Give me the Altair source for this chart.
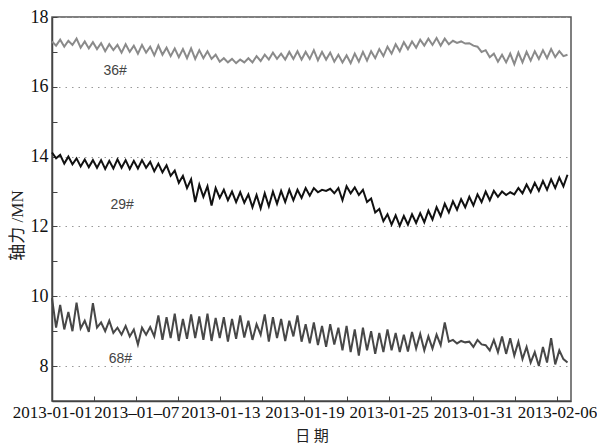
import json
import altair as alt
import pandas as pd

# ---------------- data ----------------
start_time = "2013-01-01 00:00"
step = "7h"

s36 = [17.30, 17.18, 17.35, 17.15, 17.32, 17.20, 17.38, 17.12, 17.30, 17.10, 17.28, 17.08,
       17.25, 17.02, 17.22, 17.05, 17.20, 16.98, 17.22, 17.00, 17.18, 16.95, 17.20, 16.98,
       17.15, 16.90, 17.18, 16.92, 17.12, 16.88, 17.10, 16.85, 17.08, 16.82, 17.10, 16.80,
       17.05, 16.82, 17.02, 16.80, 16.92, 16.72, 16.82, 16.70, 16.80, 16.68, 16.78, 16.70,
       16.82, 16.70, 16.88, 16.74, 16.92, 16.78, 16.98, 16.80, 16.95, 16.78, 17.00, 16.80,
       17.02, 16.78, 17.00, 16.80, 17.05, 16.76, 17.00, 16.78, 16.98, 16.72, 16.92, 16.70,
       16.90, 16.68, 16.95, 16.72, 17.00, 16.75, 17.02, 16.82, 17.08, 16.88, 17.15, 16.95,
       17.22, 17.02, 17.28, 17.08, 17.30, 17.12, 17.35, 17.18, 17.38, 17.20, 17.40, 17.18,
       17.38, 17.22, 17.32, 17.26, 17.30, 17.24, 17.25, 17.18, 17.15, 17.00, 17.05, 16.85,
       16.95, 16.72, 16.92, 16.70, 16.95, 16.65, 16.98, 16.70, 17.00, 16.75, 17.02, 16.80,
       17.05, 16.82, 17.08, 16.85, 17.02, 16.88, 16.92]

s29 = [14.12, 13.95, 14.05, 13.80, 14.00, 13.78, 13.95, 13.72, 13.92, 13.70, 13.90, 13.68,
       13.90, 13.65, 13.88, 13.66, 13.92, 13.68, 13.90, 13.65, 13.88, 13.66, 13.90, 13.68,
       13.85, 13.58, 13.80, 13.55, 13.75, 13.45, 13.60, 13.25, 13.45, 13.10, 13.35, 12.70,
       13.20, 12.85, 13.15, 12.60, 13.10, 12.82, 13.05, 12.75, 13.00, 12.70, 12.98, 12.68,
       12.92, 12.55, 12.90, 12.52, 12.95, 12.58, 13.00, 12.65, 13.02, 12.70, 13.05, 12.75,
       13.05, 12.82, 13.10, 12.88, 13.10, 12.98, 13.05, 13.02, 13.08, 12.95, 13.10, 12.75,
       13.15, 12.95, 13.12, 12.90, 13.05, 12.70, 12.80, 12.40, 12.50, 12.15, 12.35, 12.05,
       12.32, 12.02, 12.30, 12.05, 12.35, 12.10, 12.38, 12.12, 12.45, 12.20, 12.55, 12.30,
       12.65, 12.40, 12.72, 12.48, 12.78, 12.55, 12.85, 12.60, 12.92, 12.70, 13.00, 12.75,
       13.02, 12.85, 13.00, 12.90, 12.98, 12.92, 13.10, 12.95, 13.20, 12.98, 13.25, 13.02,
       13.30, 13.05, 13.35, 13.10, 13.40, 13.15, 13.48]

s68 = [9.95, 9.10, 9.75, 9.05, 9.55, 9.00, 9.82, 9.08, 9.30, 8.98, 9.80, 9.10,
       9.25, 9.00, 9.30, 8.95, 9.10, 8.90, 9.15, 8.85, 9.05, 8.62, 9.10, 8.90,
       9.12, 8.85, 9.45, 8.75, 9.40, 8.80, 9.50, 8.72, 9.35, 8.78, 9.48, 8.80,
       9.42, 8.75, 9.50, 8.72, 9.38, 8.80, 9.40, 8.70, 9.35, 8.78, 9.45, 8.82,
       9.30, 8.75, 9.20, 8.90, 9.48, 8.70, 9.40, 8.80, 9.35, 8.72, 9.30, 8.85,
       9.45, 8.70, 9.20, 8.65, 9.25, 8.60, 9.15, 8.55, 9.20, 8.62, 9.10, 8.45,
       9.15, 8.40, 9.05, 8.30, 9.10, 8.45, 9.00, 8.35, 8.95, 8.40, 9.05, 8.45,
       8.95, 8.40, 8.90, 8.42, 8.98, 8.50, 8.92, 8.45, 8.85, 8.50, 8.90, 8.60,
       9.25, 8.70, 8.75, 8.65, 8.72, 8.68, 8.70, 8.55, 8.75, 8.62, 8.60, 8.45,
       8.75, 8.40, 8.85, 8.35, 8.80, 8.30, 8.70, 8.20, 8.55, 8.10, 8.40, 8.00,
       8.55, 8.10, 8.80, 8.05, 8.45, 8.20, 8.10]

series_names = ["36#", "29#", "68#"]
series_colors = ["#8a8a8a", "#111111", "#474747"]

label_texts = ["36#", "29#", "68#"]
label_times = ["2013-01-05T12:00:00", "2013-01-06T00:00:00", "2013-01-05T21:00:00"]
label_values = [16.46, 12.62, 8.2]

y_ticks = [8, 9, 10, 11, 12, 13, 14, 15, 16, 17, 18]
x_tick_dates = ["2013-01-01", "2013-01-04", "2013-01-07", "2013-01-10", "2013-01-13",
                "2013-01-16", "2013-01-19", "2013-01-22", "2013-01-25", "2013-01-28",
                "2013-01-31", "2013-02-03", "2013-02-06"]
x_tick_labels = ["2013-01-01", "", "2013\u201301\u201307", "", "2013-01-13", "",
                 "2013-01-19", "", "2013-01-25", "", "2013-01-31", "", "2013-02-06"]

# ---------------- build tables ----------------
times = pd.date_range(start_time, periods=len(s36), freq=step)
frames = []
for name, vals in zip(series_names, [s36, s29, s68]):
    frames.append(pd.DataFrame({"time": times[:len(vals)], "value": vals, "series": name}))
df = pd.concat(frames, ignore_index=True)

lab_df = pd.DataFrame({"time": pd.to_datetime(label_times), "value": label_values,
                       "label": label_texts})


def to_dt(s):
    t = pd.Timestamp(s)
    return alt.DateTime(year=t.year, month=t.month, date=t.day)


x_values = [to_dt(d) for d in x_tick_dates]
x_label_expr = (json.dumps(x_tick_labels, ensure_ascii=False)
                + "[round((datum.value - datetime(2013,0,1)) / 259200000)]")

x_scale = alt.Scale(domain=[alt.DateTime(year=2013, month=1, date=1),
                            alt.DateTime(year=2013, month=2, date=7)])
y_scale = alt.Scale(domain=[7, 18], nice=False, zero=False)

serif = "Liberation Serif"

x_axis = alt.Axis(
    values=x_values, labelExpr=x_label_expr, title="日 期",
    labelFont=serif, labelFontSize=17, labelColor="#111", labelPadding=8,
    labelFlush=False, labelOverlap=False,
    tickSize=alt.ExprRef(expr="-5"), tickColor="#444", tickWidth=1,
    domainColor="#444", domainWidth=1.5, grid=False,
    titleFont="Noto Sans CJK SC", titleFontSize=15, titleFontWeight="normal",
    titleColor="#222", titleBaseline="middle", titleY=34,
)

y_axis = alt.Axis(
    values=y_ticks, labelExpr="datum.value % 2 == 0 ? datum.label : ''",
    title="轴力 /MN",
    labelFont=serif, labelFontSize=18, labelColor="#111", labelPadding=9,
    tickSize=alt.ExprRef(expr="-5"), tickColor="#444", tickWidth=1,
    domainColor="#444", domainWidth=1.5,
    grid=True, gridColor="#999", gridDash=[1.5, 5], gridWidth=1,
    gridOpacity={"condition": {"test": "datum.value % 2 == 1", "value": 0}, "value": 1},
    titleFont="Liberation Serif, Noto Sans CJK SC", titleFontSize=17,
    titleFontWeight="normal", titleColor="#222",
    titleAngle=270, titleAlign="center", titleBaseline="middle",
    titleX=-35, titleY=208,
)

lines = alt.Chart(df).mark_line(strokeWidth=2).encode(
    x=alt.X("time:T", scale=x_scale, axis=x_axis),
    y=alt.Y("value:Q", scale=y_scale, axis=y_axis),
    color=alt.Color("series:N", scale=alt.Scale(domain=series_names, range=series_colors),
                    legend=None),
)

labels = alt.Chart(lab_df).mark_text(font="Liberation Sans", fontSize=14, color="#444").encode(
    x=alt.X("time:T", axis=x_axis),
    y=alt.Y("value:Q", axis=y_axis),
    text="label:N",
)

chart = alt.layer(lines, labels).properties(
    width=519, height=384,
    padding={"left": 44, "top": 9, "right": 26, "bottom": 44},
    autosize=alt.AutoSizeParams(type="none"),
    background="white",
).configure_view(stroke="#555", strokeWidth=1.5)

chart.save("out.html", embed_options={"renderer": "svg", "actions": False})
